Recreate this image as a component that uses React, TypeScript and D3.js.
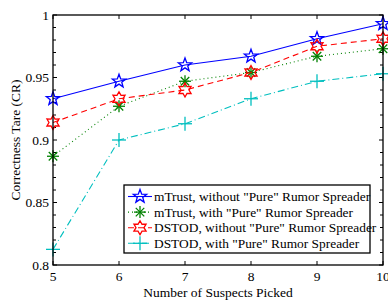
import * as d3 from "d3";
import React, { useRef, useEffect } from "react";

const suspects = [5, 6, 7, 8, 9, 10];
const mTrustWithout = [0.933, 0.947, 0.96, 0.967, 0.981, 0.993];
const mTrustWith = [0.887, 0.927, 0.947, 0.954, 0.967, 0.973];
const dstodWithout = [0.914, 0.933, 0.94, 0.954, 0.975, 0.981];
const dstodWith = [0.8125, 0.9, 0.913, 0.933, 0.947, 0.953];
const yTicks = [0.8, 0.85, 0.9, 0.95, 1];

const seriesList = [
  { name: 'mTrust, without "Pure" Rumor Spreader', values: mTrustWithout, color: "#0000ff", dash: "", marker: "pentagram" },
  { name: 'mTrust, with "Pure" Rumor Spreader', values: mTrustWith, color: "#008000", dash: "1,3", marker: "asterisk" },
  { name: 'DSTOD, without "Pure" Rumor Spreader', values: dstodWithout, color: "#ff0000", dash: "6,4", marker: "hexagram" },
  { name: 'DSTOD, with "Pure" Rumor Spreader', values: dstodWith, color: "#00bfbf", dash: "7,3,1,3", marker: "plus" },
];

const W = 388;
const H = 302;
const left = 53;
const right = 383;
const top = 15;
const bottom = 265;

function starPath(n: number, r: number, ri: number) {
  const pts: [number, number][] = [];
  for (let i = 0; i < n * 2; i++) {
    const a = -Math.PI / 2 + (i * Math.PI) / n;
    const rr = i % 2 === 0 ? r : ri;
    pts.push([rr * Math.cos(a), rr * Math.sin(a)]);
  }
  return d3.line()(pts) + "Z";
}

function drawMarker(g: any, type: string, color: string, x: number, y: number) {
  const m = g.append("g").attr("transform", `translate(${x},${y})`);
  if (type === "pentagram") {
    m.append("path").attr("d", starPath(5, 7, 2.9)).attr("fill", "none").attr("stroke", color).attr("stroke-width", 1.3);
  } else if (type === "hexagram") {
    m.append("path").attr("d", starPath(6, 7, 4)).attr("fill", "none").attr("stroke", color).attr("stroke-width", 1.3);
  } else if (type === "asterisk") {
    [0, 45, 90, 135].forEach((a) => {
      const rad = (a * Math.PI) / 180;
      m.append("line")
        .attr("x1", -6 * Math.cos(rad)).attr("y1", -6 * Math.sin(rad))
        .attr("x2", 6 * Math.cos(rad)).attr("y2", 6 * Math.sin(rad))
        .attr("stroke", color).attr("stroke-width", 1.3);
    });
  } else {
    m.append("line").attr("x1", -7).attr("x2", 7).attr("y1", 0).attr("y2", 0).attr("stroke", color).attr("stroke-width", 1.3);
    m.append("line").attr("x1", 0).attr("x2", 0).attr("y1", -7).attr("y2", 7).attr("stroke", color).attr("stroke-width", 1.3);
  }
}

export default function App() {
  const ref = useRef<SVGSVGElement>(null);

  useEffect(() => {
    const svg = d3.select(ref.current);
    svg.selectAll("*").remove();
    const font = "'Liberation Serif', 'Times New Roman', serif";

    const x = d3.scaleLinear().domain([5, 10]).range([left, right]);
    const y = d3.scaleLinear().domain([0.8, 1]).range([bottom, top]);

    svg.append("rect").attr("width", W).attr("height", H).attr("fill", "#fff");

    // ticks
    const ticks = svg.append("g").attr("stroke", "#000").attr("stroke-width", 1);
    suspects.forEach((v) => {
      ticks.append("line").attr("x1", x(v)).attr("x2", x(v)).attr("y1", bottom).attr("y2", bottom - 4);
      ticks.append("line").attr("x1", x(v)).attr("x2", x(v)).attr("y1", top).attr("y2", top + 4);
    });
    d3.range(0, 21).forEach((i) => {
      const v = 0.8 + i * 0.01;
      const len = i % 5 === 0 ? 4 : 3;
      ticks.append("line").attr("x1", left).attr("x2", left + len).attr("y1", y(v)).attr("y2", y(v));
      ticks.append("line").attr("x1", right).attr("x2", right - len).attr("y1", y(v)).attr("y2", y(v));
    });

    // tick labels
    svg.append("g").selectAll("text").data(suspects).join("text")
      .attr("x", (d) => x(d)).attr("y", bottom + 15.5)
      .attr("text-anchor", "middle").attr("font-family", font).attr("font-size", 13.5)
      .text((d) => d);
    svg.append("g").selectAll("text").data(yTicks).join("text")
      .attr("x", left - 4).attr("y", (d) => y(d) + 4.5)
      .attr("text-anchor", "end").attr("font-family", font).attr("font-size", 13.5)
      .text((d) => d3.format("")(+d.toFixed(2)));

    svg.append("text").attr("x", 218).attr("y", 296.5).attr("text-anchor", "middle")
      .attr("font-family", font).attr("font-size", 13.5).text("Number of Suspects Picked");
    svg.append("text").attr("transform", `translate(20,${(top + bottom) / 2}) rotate(-90)`)
      .attr("text-anchor", "middle").attr("font-family", font).attr("font-size", 13.5)
      .text("Correctness Tare (CR)");

    // lines
    const plot = svg.append("g");
    seriesList.forEach((s) => {
      const line = d3.line<number>().x((d, i) => x(suspects[i])).y((d) => y(d));
      plot.append("path").attr("d", line(s.values)).attr("fill", "none")
        .attr("stroke", s.color).attr("stroke-width", 1.1)
        .attr("stroke-dasharray", s.dash || null);
      s.values.forEach((v, i) => drawMarker(plot, s.marker, s.color, x(suspects[i]), y(v)));
    });

    // axes box
    svg.append("rect").attr("x", left).attr("y", top).attr("width", right - left).attr("height", bottom - top)
      .attr("fill", "none").attr("stroke", "#000").attr("stroke-width", 1.3);

    // legend
    const lg = svg.append("g");
    lg.append("rect").attr("x", 124).attr("y", 185).attr("width", 246).attr("height", 68)
      .attr("fill", "#fff").attr("stroke", "#000").attr("stroke-width", 1.3);
    seriesList.forEach((s, i) => {
      const yy = 196.5 + i * 15.6;
      lg.append("line").attr("x1", 128).attr("x2", 152).attr("y1", yy).attr("y2", yy)
        .attr("stroke", s.color).attr("stroke-width", 1.1).attr("stroke-dasharray", s.dash || null);
      drawMarker(lg, s.marker, s.color, 140, yy);
      lg.append("text").attr("x", 154).attr("y", yy + 4.5).attr("font-family", font).attr("font-size", 13.4)
        .text(s.name);
    });
  }, []);

  return (
    <div style={{ position: "absolute", left: 0, top: 0 }}>
      <svg ref={ref} width={W} height={H} style={{ display: "block" }}></svg>
    </div>
  );
}
